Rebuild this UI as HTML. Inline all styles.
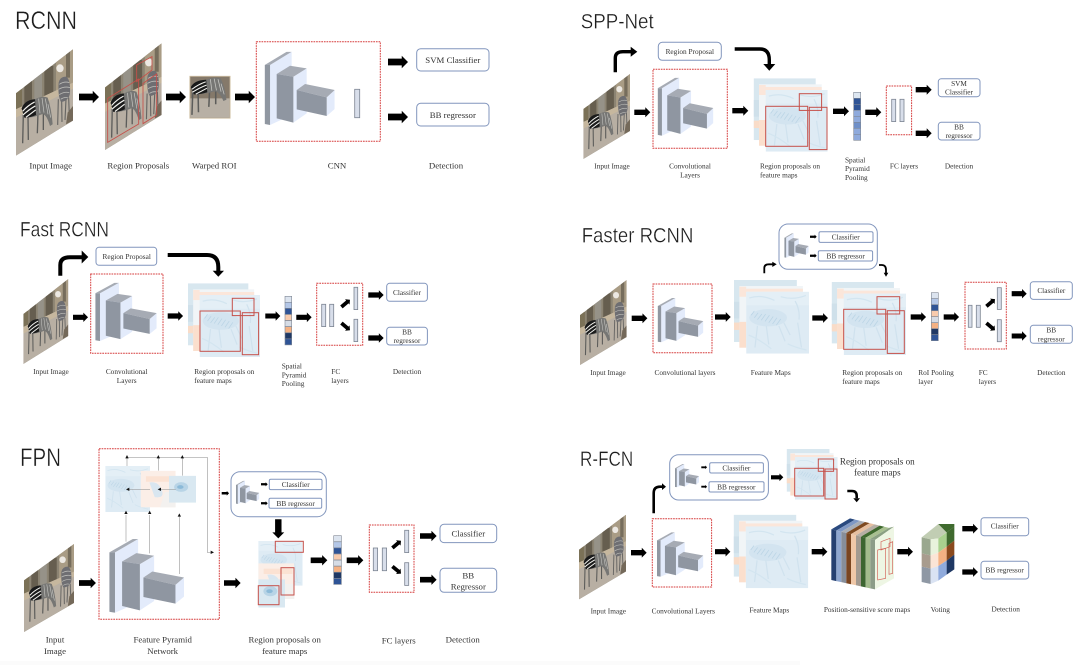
<!DOCTYPE html>
<html><head><meta charset="utf-8"><title>Object detection architectures</title>
<style>
html,body{margin:0;padding:0;background:#fff;width:1080px;height:665px;overflow:hidden}
svg{display:block;filter:blur(.35px)}
text{font-family:"Liberation Serif",serif;fill:#333}
.t{font-family:"Liberation Sans",sans-serif;fill:#1c1c1c;stroke:#fff;stroke-width:.35px}
.a{font-size:8.8px}.b{font-size:7.3px}.c{font-size:9.1px}
.m{text-anchor:middle}
.box{fill:#fff;stroke:#8296bd;stroke-width:1}
.d{fill:none;stroke:#d63c3c;stroke-width:1;stroke-dasharray:1.7 .9}
.r{fill:none;stroke:#c5504a;stroke-width:1}
.f{fill:#d8deea;stroke:#7c8492;stroke-width:.8}
.k{fill:none;stroke:#000}
.thin{fill:none;stroke:#8a8a8a;stroke-width:1.6}
</style></head><body>
<svg width="1080" height="665" viewBox="0 0 1080 665" xmlns="http://www.w3.org/2000/svg">
<defs>
<path id="a" d="M0-2.7H11V-5L16 0 11 5V2.7H0Z" fill="#000"/>
<path id="h" d="M0-5 10 0 0 5Z" fill="#111"/>
<clipPath id="zc"><polygon points="0,132 171,0 171,214 0,319"/></clipPath>
<g id="zb">
<path d="M22 195 20 282M36 200 37 272M66 190 64 252M82 185 82 242" stroke="#5c5c5a" stroke-width="4" fill="none"/>
<path d="M17 178Q25 152 57 150Q80 138 95 145Q106 175 110 225L102 230Q92 196 80 194Q50 206 25 205Z" fill="#767674"/>
<path d="M17 178Q25 152 57 150L60 197Q40 206 25 205Z" fill="#1a1a1a"/>
<path d="M20 186Q36 168 56 158M21 197Q40 180 58 170M30 204Q46 192 59 182" stroke="#f2f2ee" stroke-width="3.6" fill="none"/>
<path d="M68 148 72 192M78 146 84 190M88 148 96 195M96 165 104 205" stroke="#c8c8c4" stroke-width="2" fill="none"/>
</g>
<symbol id="z" viewBox="0 0 171 319" preserveAspectRatio="none">
<g clip-path="url(#zc)">
<rect width="171" height="319" fill="#8c8473"/>
<path d="M25 80H48V190H25ZM85 50H112V160H85Z" fill="#665e4f"/>
<path d="M55 60H78V180H55Z" fill="#969288"/>
<path d="M0 120H18V200H0Z" fill="#7b7157"/>
<polygon points="120,0 171,0 171,100 120,125" fill="#a99c85"/>
<path d="M150 0H162V85H150Z" fill="#766d5c"/>
<polygon points="0,180 171,100 171,214 0,319" fill="#b8afa3"/>
<polygon points="0,180 171,100 171,118 0,205" fill="#c6b79e"/>
<ellipse cx="132" cy="57" rx="11" ry="12" fill="#ece8e2"/>
<use href="#zb"/>
<path d="M127 150 125 227M137 155 138 218M150 150 147 212M158 145 160 200" stroke="#666563" stroke-width="3.4" fill="none"/>
<path d="M128 100Q132 82 150 82Q164 90 162 130Q160 155 135 158Q125 140 128 100Z" fill="#6e6e72"/>
<path d="M130 105Q145 95 160 100M128 120Q145 110 162 115M130 136Q145 126 160 130M134 150Q146 142 156 146" stroke="#bcbcb8" stroke-width="2.4" fill="none"/>
<polygon points="155,190 171,170 171,214 150,225" fill="#74695a"/>
</g>
</symbol>
<symbol id="roi" viewBox="0 0 124 129" preserveAspectRatio="none">
<rect width="124" height="129" fill="#cfbea2"/>
<rect x="3" y="3" width="118" height="123" fill="#85796a"/>
<rect x="3" y="68" width="118" height="58" fill="#b8b0a5"/>
<g transform="translate(-15,-108) scale(1.15,.8)"><use href="#zb"/></g>
</symbol>
<symbol id="cnn" viewBox="794 155 210 220" preserveAspectRatio="none">
<polygon points="810,195 875,155 875,345 810,375" fill="#e3ebfb"/>
<polygon points="794,195 860,155 875,155 810,195" fill="#a6abb4"/>
<polygon points="794,195 810,195 810,375 794,372" fill="#9097a1"/>
<polygon points="880,230 920,205 920,340 880,368" fill="#e3ebfb"/>
<polygon points="830,222 870,197 920,205 880,230" fill="#a6abb4"/>
<polygon points="830,222 880,230 880,368 830,355" fill="#8f96a1"/>
<polygon points="980,292 1004,270 1004,327 980,348" fill="#e3ebfb"/>
<polygon points="890,270 915,252 1004,270 980,292" fill="#a6abb4"/>
<polygon points="890,270 980,292 980,348 890,328" fill="#8f96a1"/>
</symbol>
<symbol id="fm" viewBox="0 0 100 100" preserveAspectRatio="none">
<rect width="100" height="100" fill="#deebf4"/>
<rect y="0" width="100" height="22" fill="#eaf3f8" opacity=".55"/>
<ellipse cx="35" cy="42" rx="30" ry="14" fill="#cfe2ef" opacity=".8"/>
<path d="M8 38l5-7M13 42l6-8M18 45l7-9M24 46l7-10M30 48l7-10M36 50l7-10M42 52l7-10M48 54l7-10" stroke="#bad4e5" stroke-width="1.2" fill="none"/>
<path d="M18 55 14 90M32 55 36 85M52 55 62 80M60 50 70 70M78 15Q86 30 84 45M82 50 88 90" stroke="#d0e2ee" stroke-width="2" fill="none"/>
<path d="M5 10Q25 4 45 14M55 8Q75 14 95 6M4 70Q20 76 40 92M66 84Q78 90 96 94" stroke="#d3e5f0" stroke-width="2" fill="none"/>
</symbol>
<symbol id="fo" viewBox="0 0 100 100" preserveAspectRatio="none">
<rect width="100" height="100" fill="#fbeee7"/>
<path d="M15 15H95V30H15Z" fill="#fbe2d3"/>
<path d="M25 32Q50 28 60 52T40 72Z" fill="#d9e6f0"/>
<path d="M70 58H100V100H55Z" fill="#f3f1ef"/>
</symbol>
<symbol id="fb" viewBox="0 0 100 100" preserveAspectRatio="none">
<rect width="100" height="100" fill="#d9e8f1"/>
<ellipse cx="45" cy="42" rx="26" ry="18" fill="#b8d4e6"/>
<ellipse cx="42" cy="42" rx="12" ry="7" fill="#8cbad8"/>
</symbol>
<symbol id="st" viewBox="581 235 222 220" preserveAspectRatio="none">
<rect x="581" y="235" width="186" height="185" fill="#d8e7ef"/>
<rect x="581" y="300" width="16" height="50" fill="#cfe0ea"/>
<rect x="581" y="362" width="16" height="22" fill="#f9dcc8"/>
<rect x="597" y="253" width="188" height="184" fill="#f1f5f7"/>
<rect x="610" y="261" width="175" height="9" fill="#fbe6da"/>
<rect x="597" y="255" width="20" height="30" fill="#fbe6da"/>
<rect x="597" y="360" width="20" height="77" fill="#fbdfcd"/>
<use href="#fm" x="617" y="270" width="186" height="185"/>
</symbol>
</defs>

<rect width="1080" height="665" fill="#fff"/>
<rect y="661" width="800" height="4" fill="#fbfbfb"/>

<!-- RCNN -->
<text class="t" x="15" y="29" font-size="25" textLength="62" lengthAdjust="spacingAndGlyphs">RCNN</text>
<use href="#z" x="16" y="49.3" width="57" height="106.3"/>
<use href="#z" x="105" y="43.3" width="56.7" height="106.7"/>
<g transform="scale(.33333)" class="r" style="stroke-width:2.6">
<polygon points="323,295 416,237 416,372 323,427"/>
<polygon points="429,250 470,222 470,345 429,371"/>
<polygon points="410,195 456,170 456,210 410,245"/>
</g>
<use href="#roi" x="189.3" y="75.7" width="41.3" height="43"/>
<rect class="d" x="256.3" y="41.7" width="124" height="99.6"/>
<use href="#cnn" x="264.7" y="51.7" width="70" height="73.3"/>
<rect class="f" x="354.7" y="89.3" width="5" height="28.4"/>
<rect class="box" x="416.7" y="48.7" width="72.3" height="22.3" rx="4"/>
<rect class="box" x="416.7" y="103.3" width="72.3" height="22.7" rx="4"/>
<text class="a m" x="452.8" y="63">SVM Classifier</text>
<text class="a m" x="452.8" y="118">BB regressor</text>
<use href="#a" transform="translate(79,97) scale(1.25)"/>
<use href="#a" transform="translate(166,97) scale(1.25)"/>
<use href="#a" transform="translate(235,97) scale(1.25)"/>
<use href="#a" transform="translate(388,62) scale(1.25)"/>
<use href="#a" transform="translate(388,117) scale(1.25)"/>
<text class="a m" x="50.7" y="168.3">Input Image</text>
<text class="a m" x="138.3" y="168.3">Region Proposals</text>
<text class="a m" x="214.3" y="168.3">Warped ROI</text>
<text class="a m" x="337" y="168.3">CNN</text>
<text class="a m" x="446" y="168.3">Detection</text>

<!-- SPP-Net -->
<text class="t" x="580.7" y="28.3" font-size="21" textLength="73" lengthAdjust="spacingAndGlyphs">SPP-Net</text>
<use href="#z" x="583.3" y="74" width="46.7" height="85"/>
<path class="k" stroke-width="3.4" d="M615.3 72.3V58Q615.3 51.7 623 51.7H632"/>
<polygon points="630.7,46.7 637.3,51.7 630.7,56.7"/>
<path class="k" stroke-width="3.4" d="M734.7 49H760Q769.3 49 769.3 60V65"/>
<polygon points="763.3,64 769.3,70.7 775.3,64"/>
<rect class="box" x="658.3" y="42.3" width="63" height="18" rx="4"/>
<text class="b m" x="689.8" y="54">Region Proposal</text>
<rect class="d" x="653" y="69.3" width="74.3" height="79"/>
<use href="#cnn" x="657.7" y="77.7" width="55.6" height="58"/>
<use href="#st" x="753.7" y="78.3" width="74" height="73.4"/>
<rect class="r" x="765.7" y="106.3" width="42" height="40"/>
<rect class="r" x="799.3" y="93.7" width="22.3" height="16.7"/>
<rect class="r" x="809.3" y="107.3" width="17.7" height="42.3"/>
<g stroke="#7f8794" stroke-width=".6">
<rect x="853.7" y="92.3" width="7" height="6" fill="#dde6f0"/>
<rect x="853.7" y="98.3" width="7" height="6" fill="#2f5496"/>
<rect x="853.7" y="104.3" width="7" height="6" fill="#2f5496"/>
<rect x="853.7" y="110.3" width="7" height="6" fill="#8faadc"/>
<rect x="853.7" y="116.3" width="7" height="6" fill="#8faadc"/>
<rect x="853.7" y="122.3" width="7" height="6" fill="#6f8fc8"/>
<rect x="853.7" y="128.3" width="7" height="6" fill="#8faadc"/>
<rect x="853.7" y="134.3" width="7" height="6" fill="#8faadc"/>
</g>
<rect class="d" x="886.3" y="86" width="25.3" height="48.7"/>
<rect class="f" x="891.7" y="99.3" width="4" height="22.3"/>
<rect class="f" x="900" y="99.3" width="4" height="22.3"/>
<rect class="box" x="938.3" y="78.7" width="41.7" height="18" rx="3"/>
<rect class="box" x="938.3" y="122.3" width="41.7" height="17.7" rx="3"/>
<text class="b m" x="959" y="86">SVM</text><text class="b m" x="959" y="94.5">Classifier</text>
<text class="b m" x="959" y="129.5">BB</text><text class="b m" x="959" y="138">regressor</text>
<use href="#a" transform="translate(634.3,112.3)"/>
<use href="#a" transform="translate(732.3,110.7)"/>
<use href="#a" transform="translate(833,111.3)"/>
<use href="#a" transform="translate(865.3,112.3)"/>
<use href="#a" transform="translate(915.7,89.7)"/>
<use href="#a" transform="translate(915.7,133.3)"/>
<text class="b m" x="612" y="168.7">Input Image</text>
<text class="b m" x="690" y="168.7">Convolutional</text><text class="b m" x="690" y="177.7">Layers</text>
<text class="b" x="760" y="168.7">Region proposals on</text><text class="b" x="760" y="177.7">feature maps</text>
<text class="b" x="845" y="162.3">Spatial</text><text class="b" x="845" y="171">Pyramid</text><text class="b" x="845" y="180">Pooling</text>
<text class="b m" x="904" y="168.7">FC layers</text>
<text class="b m" x="959" y="168.7">Detection</text>

<!-- Fast RCNN -->
<text class="t" x="20" y="236.7" font-size="21" textLength="89" lengthAdjust="spacingAndGlyphs">Fast RCNN</text>
<use href="#z" x="23.3" y="279" width="45" height="85"/>
<path class="k" stroke-width="4" d="M60.3 275.7V265Q60.3 257.3 70 257.3H83"/>
<polygon points="81.7,250.5 88.3,257 81.7,263.5"/>
<path class="k" stroke-width="4" d="M167.7 255H207Q218.3 255 218.3 267V271"/>
<polygon points="212.7,270.7 218.3,276.7 224,270.7"/>
<rect class="box" x="96" y="247.3" width="60.7" height="18" rx="3"/>
<text class="b m" x="126.7" y="259">Region Proposal</text>
<rect class="d" x="90.7" y="274" width="72.3" height="79.3"/>
<use href="#cnn" x="95.3" y="282.7" width="61.4" height="58.3"/>
<use href="#st" x="188" y="283.3" width="72" height="73.7"/>
<rect class="r" x="200" y="311" width="40.3" height="40.3"/>
<rect class="r" x="232.3" y="298.3" width="21.7" height="17.3"/>
<rect class="r" x="242.3" y="312.7" width="16.3" height="42"/>
<g stroke="#7f8794" stroke-width=".6">
<rect x="285" y="296.3" width="6.7" height="6" fill="#dce4ef"/>
<rect x="285" y="302.3" width="6.7" height="6" fill="#b4c7e7"/>
<rect x="285" y="308.4" width="6.7" height="6" fill="#2f5496"/>
<rect x="285" y="314.5" width="6.7" height="6" fill="#f8cbad"/>
<rect x="285" y="320.6" width="6.7" height="6" fill="#d6dce5"/>
<rect x="285" y="326.7" width="6.7" height="6" fill="#f4b183"/>
<rect x="285" y="332.8" width="6.7" height="6" fill="#1f3864"/>
<rect x="285" y="338.9" width="6.7" height="6" fill="#2f5496"/>
</g>
<rect class="d" x="316.7" y="283.3" width="46" height="62"/>
<rect class="f" x="321.7" y="304.3" width="4" height="22.3"/>
<rect class="f" x="329.7" y="304.3" width="4" height="22.3"/>
<rect class="f" x="354" y="287.3" width="3.7" height="22.3"/>
<rect class="f" x="354" y="319.3" width="3.7" height="22.3"/>
<use href="#a" transform="translate(345.7,303.3) rotate(-40) scale(.7) translate(-8,0)"/>
<use href="#a" transform="translate(345.7,326.7) rotate(40) scale(.7) translate(-8,0)"/>
<rect class="box" x="386.7" y="283.3" width="40.7" height="18" rx="3"/>
<rect class="box" x="386.7" y="327.3" width="40.7" height="17.7" rx="3"/>
<text class="b m" x="407" y="295">Classifier</text>
<text class="b m" x="407" y="334.3">BB</text><text class="b m" x="407" y="343">regressor</text>
<use href="#a" transform="translate(73,317.3) scale(.94)"/>
<use href="#a" transform="translate(167.7,316) scale(.96)"/>
<use href="#a" transform="translate(265.3,316) scale(.94)"/>
<use href="#a" transform="translate(296.3,317.3) scale(.96)"/>
<use href="#a" transform="translate(368.3,295) scale(.96)"/>
<use href="#a" transform="translate(368.3,338) scale(.96)"/>
<text class="b m" x="51" y="374">Input Image</text>
<text class="b m" x="126.7" y="374">Convolutional</text><text class="b m" x="126.7" y="383">Layers</text>
<text class="b" x="194.3" y="374">Region proposals on</text><text class="b" x="194.3" y="383">feature maps</text>
<text class="b" x="281.7" y="368.7">Spatial</text><text class="b" x="281.7" y="377.3">Pyramid</text><text class="b" x="281.7" y="386">Pooling</text>
<text class="b" x="331.3" y="374">FC</text><text class="b" x="331.3" y="383">layers</text>
<text class="b m" x="407" y="374">Detection</text>

<!-- Faster RCNN -->
<text class="t" x="581.7" y="242.3" font-size="21" textLength="111.7" lengthAdjust="spacingAndGlyphs">Faster RCNN</text>
<use href="#z" x="580" y="280" width="46.7" height="85"/>
<rect class="d" x="653" y="284" width="59" height="68.7"/>
<use href="#cnn" x="657.7" y="298" width="45.6" height="44.3"/>
<use href="#st" x="734" y="280" width="75" height="73.7"/>
<use href="#st" x="831.7" y="282" width="74.3" height="73"/>
<rect class="r" x="843.7" y="309.3" width="42" height="40"/>
<rect class="r" x="877" y="296.7" width="22.7" height="17.3"/>
<rect class="r" x="887.3" y="310.7" width="17" height="42.7"/>
<rect class="box" x="779" y="224" width="98.3" height="45.3" rx="9"/>
<use href="#cnn" x="784.3" y="233.3" width="24.4" height="24.4"/>
<rect class="box" x="819" y="231.7" width="54" height="10.7" rx="1.5"/>
<rect class="box" x="818.3" y="250.7" width="54.3" height="10.3" rx="1.5"/>
<text class="b m" x="845.7" y="239.5">Classifier</text>
<text class="b m" x="845.7" y="258.7">BB regressor</text>
<use href="#a" transform="translate(810,236.7) scale(.42)"/>
<use href="#a" transform="translate(810,255.7) scale(.42)"/>
<path class="k" stroke-width="1.8" d="M764.3 273.3V268Q764.3 264.3 769 264.3H773"/>
<polygon points="772.3,261.7 776.7,264.3 772.3,267"/>
<path class="k" stroke-width="1.8" d="M879 265H881.7Q886 265 886 270V273"/>
<polygon points="883.7,272.7 886,276.7 888.3,272.7"/>
<g stroke="#7f8794" stroke-width=".6">
<rect x="931.3" y="292.7" width="7" height="6" fill="#dce4ef"/>
<rect x="931.3" y="298.7" width="7" height="6" fill="#b4c7e7"/>
<rect x="931.3" y="304.7" width="7" height="6" fill="#2f5496"/>
<rect x="931.3" y="310.7" width="7" height="6" fill="#f8cbad"/>
<rect x="931.3" y="316.7" width="7" height="6" fill="#d6dce5"/>
<rect x="931.3" y="322.7" width="7" height="6" fill="#f4b183"/>
<rect x="931.3" y="328.7" width="7" height="6" fill="#1f3864"/>
<rect x="931.3" y="334.7" width="7" height="6" fill="#2f5496"/>
</g>
<rect class="d" x="965" y="282.3" width="41.3" height="66.7"/>
<rect class="f" x="968.3" y="305.3" width="3.7" height="22"/>
<rect class="f" x="976.3" y="305.3" width="4" height="22"/>
<rect class="f" x="997.3" y="287.7" width="4" height="21.7"/>
<rect class="f" x="997.3" y="319.7" width="4" height="22"/>
<use href="#a" transform="translate(990.7,302.7) rotate(-40) scale(.7) translate(-8,0)"/>
<use href="#a" transform="translate(990.7,326.7) rotate(40) scale(.7) translate(-8,0)"/>
<rect class="box" x="1030.3" y="281.7" width="42" height="17.7" rx="3"/>
<rect class="box" x="1030.3" y="325.3" width="42" height="18" rx="3"/>
<text class="b m" x="1051.3" y="293">Classifier</text>
<text class="b m" x="1051.3" y="332.5">BB</text><text class="b m" x="1051.3" y="341.7">regressor</text>
<use href="#a" transform="translate(631.7,318.3) scale(.98)"/>
<use href="#a" transform="translate(715,317) scale(.98)"/>
<use href="#a" transform="translate(812.3,318) scale(.98)"/>
<use href="#a" transform="translate(910.7,317) scale(.96)"/>
<use href="#a" transform="translate(943.7,317) scale(.96)"/>
<use href="#a" transform="translate(1011.7,293.7) scale(.94)"/>
<use href="#a" transform="translate(1011.7,336) scale(.94)"/>
<text class="b m" x="608" y="375">Input Image</text>
<text class="b m" x="685" y="375">Convolutional layers</text>
<text class="b m" x="770.7" y="375">Feature Maps</text>
<text class="b" x="842.3" y="375">Region proposals on</text><text class="b" x="842.3" y="384">feature maps</text>
<text class="b" x="918.3" y="375">RoI Pooling</text><text class="b" x="918.3" y="384">layer</text>
<text class="b" x="978.7" y="375">FC</text><text class="b" x="978.7" y="384">layers</text>
<text class="b m" x="1051.3" y="375">Detection</text>

<!-- FPN -->
<text class="t" x="20" y="466" font-size="25" textLength="41" lengthAdjust="spacingAndGlyphs">FPN</text>
<use href="#z" x="24" y="544" width="50" height="88"/>
<rect class="d" x="99" y="448.7" width="120.3" height="170.6"/>
<use href="#fm" x="105.3" y="466" width="44.7" height="46"/>
<use href="#fo" x="140.7" y="470.7" width="35" height="36.7"/>
<use href="#fb" x="169" y="475.7" width="27" height="27"/>
<use href="#cnn" x="109.3" y="539" width="74.7" height="73.7"/>
<g transform="translate(0,430) scale(.33333)">
<path class="thin" d="M381 108V82H622V367H632M475 122V85M547 137V85M450 178H385M527 178H480M378 335V255M449 370V255M538 432V260"/>
<use href="#h" transform="translate(632,367)"/>
<use href="#h" transform="translate(381,85) rotate(-90)"/>
<use href="#h" transform="translate(475,85) rotate(-90)"/>
<use href="#h" transform="translate(547,85) rotate(-90)"/>
<use href="#h" transform="translate(388,178) rotate(180)"/>
<use href="#h" transform="translate(483,178) rotate(180)"/>
<use href="#h" transform="translate(378,252) rotate(-90)"/>
<use href="#h" transform="translate(449,252) rotate(-90)"/>
<use href="#h" transform="translate(538,260) rotate(-90)"/>
</g>
<rect class="box" x="231" y="471.7" width="95.3" height="45" rx="9"/>
<use href="#cnn" x="236" y="480.7" width="23.3" height="23.3"/>
<rect class="box" x="269.3" y="479.3" width="52.7" height="10.3" rx="1.5"/>
<rect class="box" x="269" y="498.3" width="52.7" height="10" rx="1.5"/>
<text class="b m" x="295.7" y="487.2">Classifier</text>
<text class="b m" x="295.7" y="506">BB regressor</text>
<use href="#a" transform="translate(261,484.3) scale(.42)"/>
<use href="#a" transform="translate(261,503.3) scale(.42)"/>
<use href="#a" transform="translate(221.7,493.3) scale(.46)"/>
<use href="#a" transform="translate(278.3,519.3) rotate(90) scale(1.19)"/>
<use href="#fm" x="258.3" y="541" width="44.3" height="44.7"/>
<use href="#fo" x="258.3" y="563.3" width="36" height="35.7"/>
<use href="#fb" x="258.3" y="579.3" width="26.7" height="28.3"/>
<rect class="r" x="275.3" y="541.3" width="28" height="11"/>
<rect class="r" x="281" y="567.7" width="13" height="27.3"/>
<rect class="r" x="258.3" y="585.7" width="20.7" height="19"/>
<g stroke="#7f8794" stroke-width=".6">
<rect x="333.7" y="535.7" width="7.7" height="6" fill="#dce4ef"/>
<rect x="333.7" y="541.8" width="7.7" height="6" fill="#b4c7e7"/>
<rect x="333.7" y="547.9" width="7.7" height="6" fill="#2f5496"/>
<rect x="333.7" y="554" width="7.7" height="6" fill="#f8cbad"/>
<rect x="333.7" y="560.1" width="7.7" height="6" fill="#d6dce5"/>
<rect x="333.7" y="566.2" width="7.7" height="6" fill="#f4b183"/>
<rect x="333.7" y="572.3" width="7.7" height="6" fill="#1f3864"/>
<rect x="333.7" y="578.4" width="7.7" height="6" fill="#2f5496"/>
</g>
<rect class="d" x="369.3" y="525" width="44.7" height="67.3"/>
<rect class="f" x="373.3" y="548" width="4.3" height="22.7"/>
<rect class="f" x="382.3" y="548" width="4.3" height="22.7"/>
<rect class="f" x="404.7" y="530.3" width="4" height="22.3"/>
<rect class="f" x="404.7" y="562.7" width="4" height="22.7"/>
<use href="#a" transform="translate(396.7,544.3) rotate(-40) scale(.7) translate(-8,0)"/>
<use href="#a" transform="translate(396.7,570) rotate(40) scale(.7) translate(-8,0)"/>
<rect class="box" x="440" y="524.3" width="56.7" height="18.3" rx="4"/>
<rect class="box" x="440" y="568.3" width="56.7" height="24" rx="4"/>
<text class="a m" x="468.3" y="536.7">Classifier</text>
<text class="a m" x="468.3" y="578.3">BB</text><text class="a m" x="468.3" y="589.3">Regressor</text>
<use href="#a" transform="translate(79,583) scale(1.06)"/>
<use href="#a" transform="translate(224,583) scale(1.04)"/>
<use href="#a" transform="translate(310.7,560.3) scale(1.04)"/>
<use href="#a" transform="translate(346.7,560.3) scale(1.04)"/>
<use href="#a" transform="translate(420,536) scale(1.04)"/>
<use href="#a" transform="translate(420,579.7) scale(1.04)"/>
<text class="a m" x="55" y="642.7">Input</text><text class="a m" x="55" y="654">Image</text>
<text class="a m" x="162.7" y="642.7">Feature Pyramid</text><text class="a m" x="162.7" y="654">Network</text>
<text class="a m" x="284.7" y="642.7">Region proposals on</text><text class="a m" x="284.7" y="654">feature maps</text>
<text class="a m" x="398.7" y="643.7">FC layers</text>
<text class="a m" x="462.7" y="642.7">Detection</text>

<!-- R-FCN -->
<text class="t" x="580" y="466" font-size="21" textLength="53.3" lengthAdjust="spacingAndGlyphs">R-FCN</text>
<use href="#z" x="579" y="514.7" width="47" height="84.7"/>
<path class="k" stroke-width="2.6" d="M653.7 513.3V493Q653.7 486.7 660 486.7H663"/>
<polygon points="662,483.3 666,486.7 662,490"/>
<rect class="box" x="669.7" y="454.7" width="98.7" height="45.3" rx="9"/>
<use href="#cnn" x="675" y="464" width="24" height="23.3"/>
<rect class="box" x="709.7" y="462.7" width="53.7" height="10.3" rx="1.5"/>
<rect class="box" x="709" y="481.7" width="55" height="10.3" rx="1.5"/>
<text class="b m" x="736.3" y="470.3">Classifier</text>
<text class="b m" x="736.3" y="489.3">BB regressor</text>
<use href="#a" transform="translate(701.3,467.3) scale(.36)"/>
<use href="#a" transform="translate(701.3,486.7) scale(.36)"/>
<use href="#a" transform="translate(771,477.3) scale(.77)"/>
<use href="#st" x="786.7" y="449" width="51" height="50.7"/>
<rect class="r" x="794.7" y="468.3" width="29" height="27.7"/>
<rect class="r" x="818.3" y="459" width="15.3" height="12.3"/>
<rect class="r" x="825" y="469" width="12" height="30"/>
<text class="c m" x="877.3" y="464.7">Region proposals on</text>
<text class="c m" x="877.3" y="475.7">feature maps</text>
<path class="k" stroke-width="2.6" d="M847.3 491H852Q856.7 491 856.7 496V498.3"/>
<polygon points="853.3,498.3 856.7,502.3 860,498.3"/>
<rect class="d" x="652.3" y="518.7" width="59.3" height="68.3"/>
<use href="#cnn" x="657" y="532.3" width="46.3" height="44.4"/>
<use href="#st" x="733.7" y="514.7" width="74.6" height="73.6"/>
<g transform="translate(560,430) scale(.33333)">
<polygon points="814,298 870,265 885,268.7 829,301.7" fill="#2a4a7f"/><polygon points="814,298 829,301.7 829,453.2 814,450" fill="#243f70"/>
<polygon points="829,301.7 885,268.7 900,272.3 844,305.3" fill="#7f98c4"/><polygon points="829,301.7 844,305.3 844,456.4 829,453.2" fill="#8ea6cf"/>
<polygon points="844,305.3 900,272.3 915,276 859,309" fill="#a8adb5"/><polygon points="844,305.3 859,309 859,459.6 844,456.4" fill="#878e99"/>
<polygon points="859,309 915,276 929,279.4 873,312.4" fill="#7f4a20"/><polygon points="859,309 873,312.4 873,462.6 859,459.6" fill="#7a4520"/>
<polygon points="873,312.4 929,279.4 944,283.1 888,316.1" fill="#e6bfa0"/><polygon points="873,312.4 888,316.1 888,465.8 873,462.6" fill="#f0c8a8"/>
<polygon points="888,316.1 944,283.1 959,286.7 903,319.7" fill="#b7aea4"/><polygon points="888,316.1 903,319.7 903,469 888,465.8" fill="#a39a90"/>
<polygon points="903,319.7 959,286.7 973,290.1 917,323.1" fill="#3f6a2e"/><polygon points="903,319.7 917,323.1 917,472 903,469" fill="#3c6530"/>
<polygon points="917,323.1 973,290.1 987,293.5 931,326.5" fill="#a8c090"/><polygon points="917,323.1 931,326.5 931,475 917,472" fill="#a3bb8d"/>
<polygon points="931,326.5 987,293.5 1002,290 945,330" fill="#8ba083"/><polygon points="931,326.5 945,330 945,478 931,475" fill="#8c9c88"/>
<polygon points="945,330 1002,290 1002,445 945,478" fill="#eef6e4"/>
<g fill="none" stroke="#d2645a" stroke-width="2">
<polygon points="953,360 977,355 977,445 953,450"/>
<polygon points="987,340 998,335 998,430 987,433"/>
<polygon points="963,335 990,325 990,350 963,360"/>
</g>
<polygon points="1085,322 1135,282 1183,290 1135,325 1112,328" fill="#c1cdb3"/>
<polygon points="1135,282 1183,282 1183,290 1160,307" fill="#3f6a2e"/>
<polygon points="1085,322 1112,328 1112,376 1085,370" fill="#9aa88f"/>
<polygon points="1085,370 1112,376 1112,416 1085,410" fill="#a89c8e"/>
<polygon points="1085,410 1112,416 1112,462 1085,456" fill="#8f98a4"/>
<polygon points="1112,328 1135,325 1135,368 1112,376" fill="#e8f2dc"/>
<polygon points="1112,376 1135,368 1135,408 1112,416" fill="#fbe5d6"/>
<polygon points="1112,416 1135,408 1135,452 1112,462" fill="#dae3f3"/>
<polygon points="1135,325 1160,307 1160,350 1135,368" fill="#a9d18e"/>
<polygon points="1135,368 1160,350 1160,392 1135,408" fill="#f4b183"/>
<polygon points="1135,408 1160,392 1160,434 1135,452" fill="#8faadc"/>
<polygon points="1160,307 1183,290 1183,332 1160,350" fill="#3f6a2e"/>
<polygon points="1160,350 1183,332 1183,374 1160,392" fill="#8a4a1e"/>
<polygon points="1160,392 1183,374 1183,418 1160,434" fill="#1f3864"/>
</g>
<rect class="box" x="981" y="517.7" width="47.7" height="18" rx="3"/>
<rect class="box" x="981" y="561.3" width="47.7" height="17.7" rx="3"/>
<text class="b m" x="1004.7" y="528.7">Classifier</text>
<text class="b m" x="1004.7" y="572.7">BB regressor</text>
<use href="#a" transform="translate(631,552.7) scale(.98)"/>
<use href="#a" transform="translate(715,551.7) scale(.96)"/>
<use href="#a" transform="translate(811.7,551.7) scale(.98)"/>
<use href="#a" transform="translate(897.3,551.7) scale(.98)"/>
<use href="#a" transform="translate(962.3,528.7) scale(.98)"/>
<use href="#a" transform="translate(962.3,572) scale(.98)"/>
<text class="b m" x="608.3" y="613.3">Input Image</text>
<text class="b m" x="683.3" y="613.3">Convolutional Layers</text>
<text class="b m" x="769.3" y="612.7">Feature Maps</text>
<text class="b m" x="867" y="612">Position-sensitive score maps</text>
<text class="b m" x="940.3" y="612">Voting</text>
<text class="b m" x="1005.7" y="611.3">Detection</text>
</svg>
</body></html>
